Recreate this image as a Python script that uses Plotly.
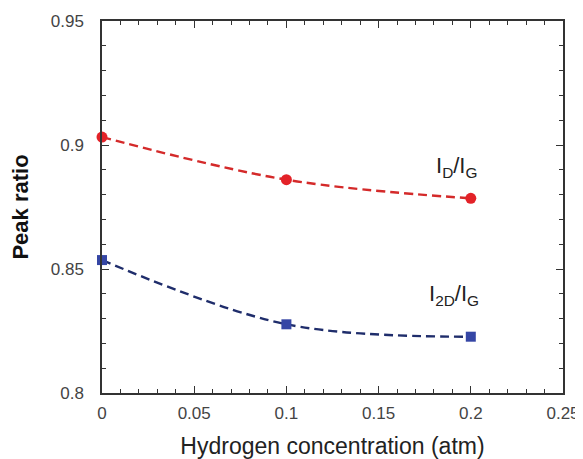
import plotly.graph_objects as go

x_vals = [0.0, 0.1, 0.2]
id_ig = [0.9032, 0.8860, 0.8785]
i2d_ig = [0.8536, 0.8277, 0.8227]
x_ticks = [0, 0.05, 0.1, 0.15, 0.2, 0.25]
x_tick_labels = ["0", "0.05", "0.1", "0.15", "0.2", "0.25"]
y_ticks = [0.8, 0.85, 0.9, 0.95]
y_tick_labels = ["0.8", "0.85", "0.9", "0.95"]

FONT = "Liberation Sans, Arial, sans-serif"
red_line = "#d42a2a"
red_marker = "#e32228"
blue_line = "#1f2d6b"
blue_marker = "#3546a5"

fig = go.Figure()
fig.add_trace(go.Scatter(x=x_vals, y=id_ig, mode="lines", line=dict(color=red_line, width=2.4, dash="9px,5px", shape="spline", smoothing=1.0), hoverinfo="skip"))
fig.add_trace(go.Scatter(x=x_vals, y=i2d_ig, mode="lines", line=dict(color=blue_line, width=2.4, dash="9px,5px", shape="spline", smoothing=1.0), hoverinfo="skip"))
fig.add_trace(go.Scatter(x=x_vals, y=id_ig, mode="markers", marker=dict(symbol="circle", size=11, color=red_marker), cliponaxis=False))
fig.add_trace(go.Scatter(x=x_vals, y=i2d_ig, mode="markers", marker=dict(symbol="square", size=10, color=blue_marker), cliponaxis=False))

axis_common = dict(
    showline=True, linecolor="#333333", linewidth=1.5, mirror="ticks",
    ticks="inside", ticklen=7, tickwidth=1.2, tickcolor="#333333",
    showgrid=False, zeroline=False, automargin=False,
    tickfont=dict(family=FONT, size=17, color="#444444"),
)

fig.update_xaxes(
    range=[0, 0.25], tickvals=x_ticks, ticktext=x_tick_labels,
    minor=dict(dtick=0.01, ticks="inside", ticklen=4, tickcolor="#333333", tickwidth=1),
    title=dict(text="Hydrogen concentration (atm)", font=dict(family=FONT, size=23, color="#222222"), standoff=19),
    ticklabelstandoff=4,
    **axis_common,
)
fig.update_yaxes(
    range=[0.8, 0.95], tickvals=y_ticks, ticktext=y_tick_labels,
    minor=dict(dtick=0.01, ticks="inside", ticklen=4, tickcolor="#333333", tickwidth=1),
    title=dict(text="<b>Peak ratio</b>", font=dict(family=FONT, size=22, color="#111111"), standoff=16),
    ticklabelstandoff=13,
    **axis_common,
)

fig.add_annotation(x=0.2, y=0.8846, text="I<sub>D</sub>/I<sub>G</sub>", showarrow=False, xanchor="right", yanchor="bottom",
                   font=dict(family=FONT, size=22, color="#222222"), xshift=8)
fig.add_annotation(x=0.2, y=0.833, text="I<sub>2D</sub>/I<sub>G</sub>", showarrow=False, xanchor="right", yanchor="bottom",
                   font=dict(family=FONT, size=22, color="#222222"), xshift=10)

fig.update_layout(
    width=575, height=451,
    margin=dict(l=94, r=20, t=13, b=66),
    plot_bgcolor="white", paper_bgcolor="white",
    showlegend=False,
)

fig.write_html("out.html")
